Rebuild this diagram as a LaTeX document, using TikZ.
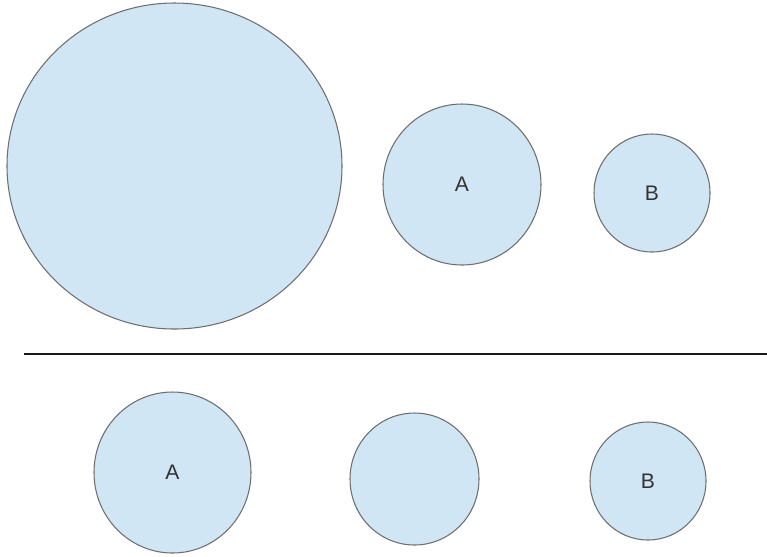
\documentclass[tikz,border=0pt]{standalone}
\usepackage{fontspec}
\setmainfont{Liberation Sans}
\usetikzlibrary{shapes.geometric}

\definecolor{bulle}{HTML}{D0E6F4}
\definecolor{trait}{HTML}{6E6E6E}

\begin{document}
\begin{tikzpicture}[x=0.02cm, y=-0.02cm, font=\fontsize{12}{14}\selectfont]

    % --- Cadre ---
    \useasboundingbox (0,0) rectangle (767,556);

    % --- Styles ---
    \tikzstyle{bulle} = [ellipse, draw=trait, fill=bulle, line width=0.6pt, inner sep=0pt, text=black!80]

    % --- Rangée du haut ---
    \node[bulle, minimum width=335*0.02cm, minimum height=326*0.02cm] (grand) at (174.5,166) {};
    \node[bulle, minimum width=158*0.02cm, minimum height=161*0.02cm] (hautA) at (462,184.5) {A};
    \node[bulle, minimum width=116*0.02cm, minimum height=118*0.02cm] (hautB) at (652,193) {B};

    % --- Séparation ---
    \coordinate (sepG) at (24,354);
    \coordinate (sepD) at (767,354);
    \draw[line width=0.8pt, black!90] (sepG) -- (sepD);

    % --- Rangée du bas ---
    \node[bulle, minimum width=157*0.02cm, minimum height=161*0.02cm] (basA) at (172.5,472.5) {A};
    \node[bulle, minimum width=129*0.02cm, minimum height=132*0.02cm] (milieu) at (414.5,479) {};
    \node[bulle, minimum width=116*0.02cm, minimum height=118*0.02cm] (basB) at (648,481) {B};

\end{tikzpicture}
\end{document}
